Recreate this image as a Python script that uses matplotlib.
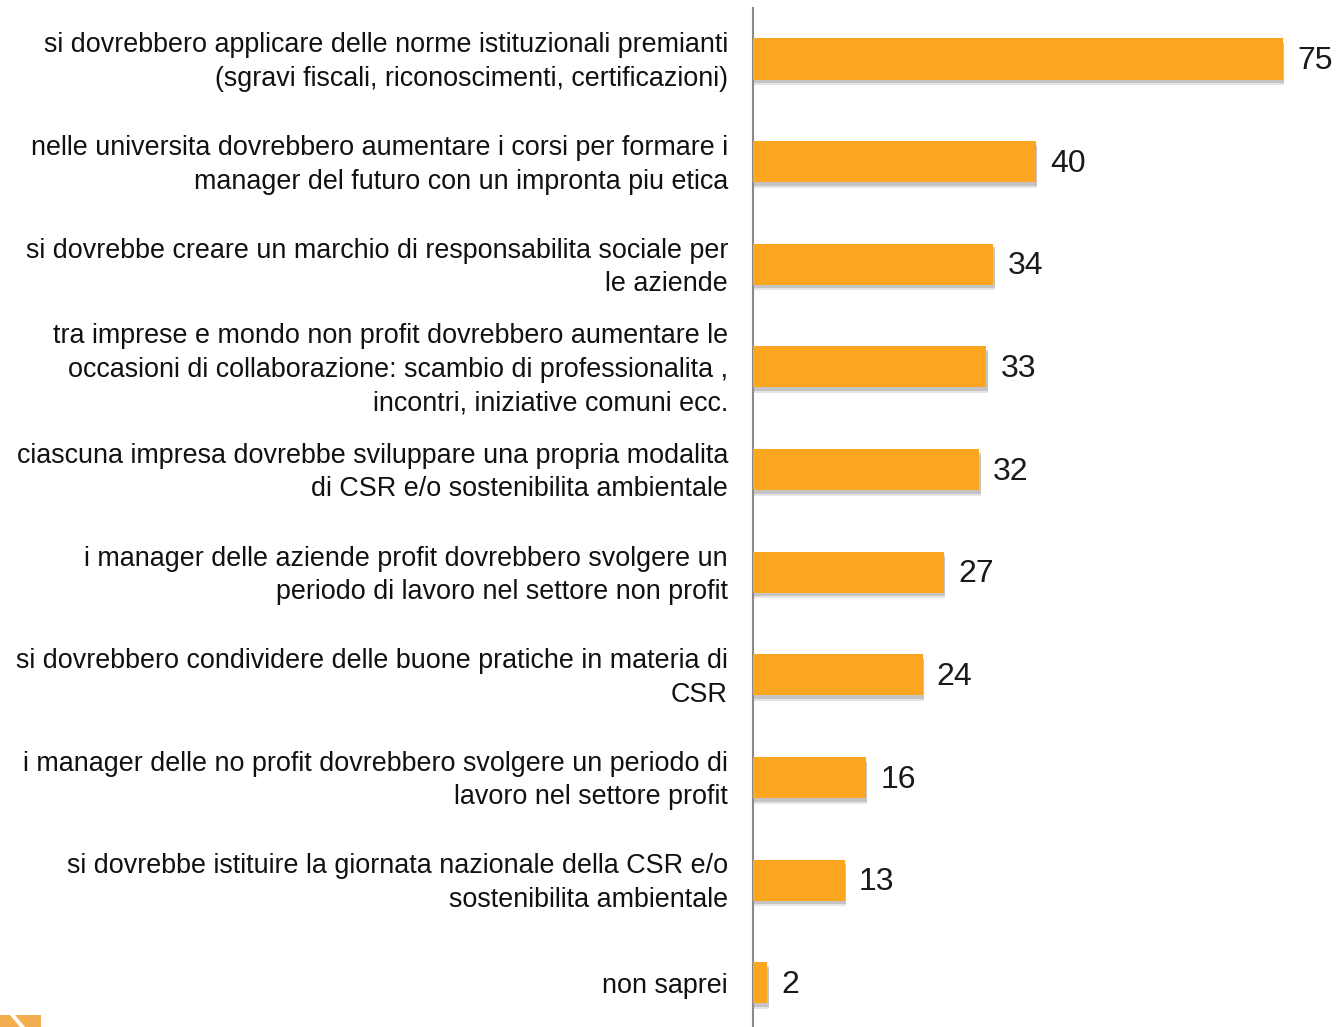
import matplotlib
matplotlib.use("Agg")
import matplotlib.pyplot as plt
import matplotlib.patheffects as pe
from matplotlib.patches import Polygon

categories = [
    "si dovrebbero applicare delle norme istituzionali premianti\n(sgravi fiscali, riconoscimenti, certificazioni)",
    "nelle universita dovrebbero aumentare i corsi per formare i\nmanager del futuro con un impronta piu etica",
    "si dovrebbe creare un marchio di responsabilita sociale per\nle aziende",
    "tra imprese e mondo non profit dovrebbero aumentare le\noccasioni di collaborazione: scambio di professionalita ,\nincontri, iniziative comuni ecc.",
    "ciascuna impresa dovrebbe sviluppare una propria modalita\ndi CSR e/o sostenibilita ambientale",
    "i manager delle aziende profit dovrebbero svolgere un\nperiodo di lavoro nel settore non profit",
    "si dovrebbero condividere delle buone pratiche in materia di\nCSR",
    "i manager delle no profit dovrebbero svolgere un periodo di\nlavoro nel settore profit",
    "si dovrebbe istituire la giornata nazionale della CSR e/o\nsostenibilita ambientale",
    "non saprei",
]
values = [75, 40, 34, 33, 32, 27, 24, 16, 13, 2]

W, H = 1336, 1027
fig = plt.figure(figsize=(W / 100, H / 100), dpi=100)
fig.patch.set_facecolor("white")

ax_left = 753 / W
ax = fig.add_axes([ax_left, 0, 1 - ax_left, (H - 8) / H])
ax.set_xlim(0, 583 / 7.067)
ax.set_ylim(9.43, -0.497)

bar_color = "#FCA521"
ypos = list(range(len(values)))
bars = ax.barh(ypos, values, height=0.40, color=bar_color, zorder=3)
for b in bars:
    b.set_path_effects([
        pe.SimplePatchShadow(offset=(1, -4), shadow_rgbFace="#999999", alpha=0.25),
        pe.SimplePatchShadow(offset=(1, -2.5), shadow_rgbFace="#888888", alpha=0.35),
        pe.Normal()])

for y, v, lab in zip(ypos, values, categories):
    ax.text(v + 2, y + 0.02, str(v), va="center", ha="left", fontsize=23,
            family="Liberation Sans", color="#1a1a1a")
    ax.text(-25 / 583, y + 0.03, lab, transform=ax.get_yaxis_transform(), va="center", ha="right",
            fontsize=19.4, family="Liberation Sans", color="#111111", linespacing=1.38)

for s in ["top", "right", "bottom"]:
    ax.spines[s].set_visible(False)
ax.spines["left"].set_color("#8a8a8a")
ax.spines["left"].set_linewidth(1.5)
ax.set_xticks([])
ax.set_yticks([])

# decorative logo fragment bottom-left
fig.patches.append(Polygon([[0, 0], [41 / W, 0], [41 / W, 12 / H], [0, 12 / H]],
                           closed=True, transform=fig.transFigure, facecolor="#F3AE4F",
                           edgecolor="none"))
fig.patches.append(Polygon([[10 / W, 12 / H], [15 / W, 12 / H], [25 / W, 0], [20 / W, 0]],
                           closed=True, transform=fig.transFigure, facecolor="white",
                           edgecolor="none"))

fig.savefig("out.png", dpi=100, facecolor="white")
